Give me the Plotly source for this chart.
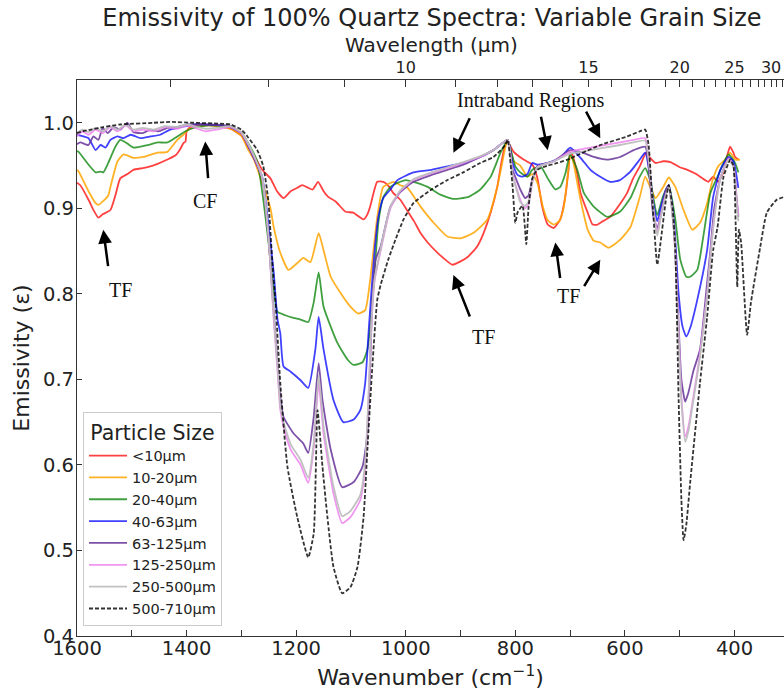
import plotly.graph_objects as go

# ---------------- data (wavenumber cm^-1, emissivity) ----------------
red_wn = [1600,1594,1579,1570,1561,1553,1539,1530,1521,1508,1497,1480,1466,1453,1435,1420,1411,1406,1402,1400,1393,1380,1350,1320,1300,1284,1271,1262,1247,1235,1223,1210,1198,1189,1178,1170,1160,1150,1141,1128,1110,1096,1085,1077,1070,1065,1058,1052,1041,1030,1023,1010,997,985,973,960,942,924,915,900,887,870,858,845,833,825,816,803,785,769,760,751,741,730,718,709,703,700,696,687,681,668,659,650,640,627,609,596,585,573,561,554,544,530,517,500,486,470,463,448,439,430,421,412,408,402,399,393]
red_em = [0.930,0.927,0.910,0.898,0.889,0.893,0.898,0.915,0.935,0.940,0.945,0.947,0.949,0.952,0.957,0.962,0.970,0.976,0.978,0.990,0.995,0.997,0.997,0.993,0.985,0.968,0.955,0.945,0.935,0.920,0.912,0.920,0.924,0.927,0.924,0.922,0.931,0.920,0.913,0.908,0.896,0.895,0.890,0.887,0.893,0.902,0.920,0.931,0.931,0.925,0.918,0.910,0.897,0.885,0.871,0.860,0.848,0.838,0.834,0.838,0.843,0.855,0.871,0.895,0.925,0.955,0.980,0.966,0.957,0.951,0.936,0.902,0.881,0.877,0.887,0.913,0.945,0.965,0.963,0.940,0.918,0.895,0.881,0.881,0.885,0.890,0.905,0.918,0.935,0.949,0.965,0.959,0.953,0.955,0.954,0.948,0.945,0.940,0.937,0.931,0.937,0.931,0.941,0.965,0.972,0.965,0.960,0.957]

orange_wn = [1600,1597,1579,1566,1561,1553,1543,1539,1526,1515,1497,1479,1453,1435,1417,1406,1397,1387,1360,1320,1300,1289,1278,1262,1247,1241,1229,1214,1198,1187,1174,1159,1150,1137,1119,1101,1087,1074,1065,1052,1041,1022,1010,997,973,949,924,900,877,851,833,818,814,803,791,778,769,760,749,741,730,720,712,705,700,696,687,681,668,657,645,630,609,590,573,563,554,544,530,520,508,493,477,463,450,440,430,417,408,399,390]
orange_em = [0.945,0.943,0.920,0.906,0.904,0.908,0.915,0.925,0.955,0.963,0.959,0.960,0.965,0.966,0.980,0.986,0.992,0.995,0.997,0.993,0.985,0.970,0.958,0.930,0.900,0.878,0.848,0.828,0.836,0.842,0.837,0.871,0.851,0.820,0.801,0.785,0.777,0.781,0.816,0.890,0.925,0.931,0.927,0.924,0.902,0.883,0.867,0.865,0.871,0.887,0.925,0.972,0.980,0.955,0.950,0.937,0.940,0.930,0.900,0.886,0.881,0.885,0.900,0.935,0.960,0.958,0.930,0.910,0.875,0.862,0.860,0.854,0.863,0.878,0.913,0.937,0.925,0.912,0.925,0.936,0.925,0.898,0.875,0.883,0.906,0.933,0.949,0.957,0.965,0.957,0.957]

green_wn = [1600,1597,1579,1566,1557,1552,1543,1530,1521,1511,1497,1471,1453,1435,1417,1402,1387,1360,1320,1300,1284,1271,1260,1251,1241,1234,1220,1205,1192,1178,1168,1159,1150,1125,1106,1095,1079,1070,1065,1061,1057,1050,1041,1028,1010,1000,986,960,937,913,887,864,845,827,814,805,800,791,778,769,754,741,727,718,709,700,687,675,657,632,609,590,573,563,554,544,541,530,520,508,499,488,481,468,457,444,431,420,411,399,393]
green_em = [0.967,0.966,0.951,0.942,0.943,0.942,0.953,0.972,0.980,0.977,0.971,0.974,0.977,0.977,0.984,0.990,0.994,0.997,0.995,0.988,0.972,0.955,0.910,0.863,0.805,0.779,0.775,0.772,0.770,0.767,0.790,0.825,0.785,0.743,0.723,0.717,0.720,0.735,0.761,0.793,0.825,0.883,0.913,0.925,0.931,0.933,0.931,0.925,0.916,0.911,0.913,0.922,0.937,0.965,0.980,0.960,0.949,0.942,0.937,0.945,0.949,0.935,0.922,0.925,0.940,0.963,0.945,0.918,0.902,0.890,0.896,0.912,0.937,0.947,0.933,0.898,0.892,0.915,0.927,0.887,0.840,0.820,0.820,0.828,0.867,0.918,0.937,0.953,0.963,0.953,0.942]

blue_wn = [1600,1594,1579,1566,1557,1548,1539,1526,1515,1502,1484,1466,1448,1430,1411,1380,1340,1320,1300,1278,1262,1251,1241,1234,1229,1223,1210,1192,1178,1165,1159,1150,1132,1114,1095,1083,1074,1068,1063,1057,1050,1041,1028,1015,986,953,924,895,864,840,814,805,796,787,778,769,760,741,718,700,681,663,645,627,609,590,573,563,554,548,541,535,526,520,510,502,495,488,481,468,450,439,426,411,402,393]
blue_em = [0.986,0.985,0.982,0.968,0.974,0.971,0.980,0.984,0.982,0.986,0.982,0.984,0.986,0.992,0.995,0.998,0.997,0.995,0.988,0.960,0.937,0.883,0.825,0.770,0.754,0.715,0.709,0.699,0.690,0.735,0.773,0.735,0.676,0.650,0.653,0.664,0.696,0.754,0.800,0.850,0.890,0.912,0.922,0.933,0.942,0.945,0.949,0.953,0.960,0.968,0.980,0.953,0.939,0.937,0.940,0.953,0.951,0.953,0.959,0.971,0.959,0.945,0.937,0.931,0.933,0.943,0.957,0.965,0.937,0.905,0.885,0.900,0.920,0.927,0.880,0.800,0.762,0.750,0.760,0.793,0.851,0.913,0.945,0.960,0.955,0.924]

purple_wn = [1600,1594,1579,1570,1561,1553,1544,1533,1521,1508,1497,1480,1466,1451,1435,1417,1398,1360,1320,1300,1278,1262,1251,1241,1234,1229,1223,1205,1187,1178,1168,1159,1152,1137,1116,1095,1079,1070,1065,1061,1055,1046,1028,1010,986,953,924,895,864,840,814,805,796,791,782,776,769,760,730,700,681,657,632,609,584,563,554,548,541,535,526,520,510,503,497,490,484,475,463,450,444,437,426,411,402,396,393]
purple_em = [0.975,0.977,0.974,0.984,0.980,0.994,0.988,0.995,0.992,1.000,0.989,0.988,0.992,0.990,0.994,0.995,0.998,0.998,0.996,0.988,0.960,0.935,0.870,0.780,0.720,0.680,0.656,0.637,0.625,0.614,0.656,0.719,0.676,0.618,0.574,0.580,0.598,0.637,0.715,0.793,0.840,0.855,0.902,0.919,0.931,0.939,0.945,0.951,0.960,0.968,0.980,0.945,0.930,0.922,0.912,0.915,0.933,0.949,0.955,0.968,0.966,0.960,0.957,0.960,0.968,0.972,0.930,0.890,0.877,0.890,0.920,0.927,0.870,0.780,0.700,0.674,0.685,0.710,0.735,0.813,0.851,0.900,0.935,0.958,0.950,0.910,0.890]

pink_wn = [1600,1590,1579,1566,1553,1539,1526,1511,1497,1480,1460,1440,1417,1398,1380,1365,1345,1320,1300,1278,1262,1251,1241,1234,1229,1223,1210,1192,1178,1168,1159,1150,1132,1116,1101,1083,1074,1068,1063,1057,1046,1028,1010,986,953,924,895,864,840,814,805,796,791,782,776,769,760,730,700,681,645,609,584,563,557,548,541,535,526,520,510,503,497,490,484,475,463,450,444,437,426,411,402,396,393]
pink_em = [0.984,0.990,0.986,0.992,0.988,0.995,0.990,0.997,0.990,0.992,0.990,0.995,0.993,0.997,0.993,0.990,0.992,0.995,0.988,0.962,0.935,0.870,0.770,0.710,0.665,0.645,0.618,0.600,0.579,0.620,0.696,0.637,0.567,0.532,0.539,0.559,0.598,0.676,0.760,0.815,0.850,0.900,0.920,0.933,0.941,0.947,0.953,0.960,0.968,0.980,0.940,0.920,0.910,0.900,0.905,0.930,0.948,0.955,0.966,0.969,0.973,0.977,0.980,0.982,0.960,0.900,0.872,0.890,0.915,0.926,0.870,0.770,0.680,0.633,0.645,0.680,0.730,0.800,0.845,0.890,0.935,0.958,0.950,0.910,0.892]

gray_wn = [1600,1590,1579,1566,1553,1539,1526,1511,1497,1480,1460,1440,1417,1398,1380,1365,1345,1320,1300,1278,1262,1251,1241,1234,1229,1223,1210,1192,1178,1168,1159,1150,1132,1116,1101,1083,1074,1068,1063,1057,1046,1028,1010,986,953,924,895,864,840,814,805,796,791,782,776,769,760,730,700,681,645,609,584,563,557,548,541,535,526,520,510,503,497,490,484,475,463,450,444,437,426,411,402,396,393]
gray_em = [0.988,0.992,0.989,0.994,0.990,0.996,0.992,0.998,0.992,0.994,0.992,0.996,0.995,0.998,0.995,0.993,0.994,0.996,0.989,0.963,0.936,0.872,0.775,0.715,0.670,0.650,0.624,0.606,0.585,0.626,0.705,0.645,0.575,0.540,0.546,0.565,0.604,0.680,0.762,0.817,0.852,0.902,0.921,0.934,0.942,0.948,0.954,0.961,0.968,0.980,0.938,0.918,0.907,0.903,0.908,0.931,0.948,0.955,0.964,0.966,0.970,0.974,0.977,0.979,0.958,0.898,0.868,0.888,0.914,0.926,0.868,0.765,0.675,0.627,0.640,0.676,0.726,0.798,0.843,0.888,0.934,0.957,0.948,0.905,0.885]

dashed_wn = [1600,1590,1575,1552,1521,1460,1430,1387,1340,1320,1300,1289,1271,1260,1251,1243,1238,1229,1216,1198,1178,1168,1161,1152,1143,1132,1116,1101,1088,1077,1070,1061,1052,1046,1032,1019,1004,986,953,924,895,864,840,818,814,805,800,796,787,780,776,769,760,741,723,700,694,645,596,573,563,557,550,541,535,526,520,513,508,502,497,493,488,481,463,450,439,431,420,411,408,402,398,395,392,388,377,370,353,341,323,311]
dashed_em = [0.988,0.990,0.992,0.995,0.998,1.000,1.001,1.000,0.999,0.998,0.992,0.984,0.968,0.949,0.910,0.832,0.793,0.696,0.598,0.539,0.492,0.520,0.664,0.598,0.539,0.481,0.450,0.457,0.481,0.539,0.618,0.715,0.793,0.810,0.840,0.863,0.887,0.906,0.922,0.933,0.942,0.953,0.960,0.974,0.980,0.925,0.883,0.895,0.903,0.858,0.900,0.935,0.945,0.950,0.953,0.958,0.960,0.974,0.984,0.990,0.992,0.975,0.910,0.834,0.860,0.906,0.927,0.900,0.850,0.676,0.560,0.512,0.530,0.579,0.696,0.773,0.851,0.878,0.937,0.953,0.957,0.950,0.883,0.808,0.875,0.860,0.752,0.790,0.855,0.895,0.910,0.913]

series_names = ["<10µm", "10-20µm", "20-40µm", "40-63µm", "63-125µm", "125-250µm", "250-500µm", "500-710µm"]

bottom_ticks = [1600, 1500, 1400, 1300, 1200, 1100, 1000, 900, 800, 700, 600, 500, 400]
bottom_labels = ["1600", "", "1400", "", "1200", "", "1000", "", "800", "", "600", "", "400"]
top_wavelengths_um = list(range(7, 34))
top_labeled = [10, 15, 20, 25, 30]
y_ticks = [0.4, 0.5, 0.6, 0.7, 0.8, 0.9, 1.0]

# ---------------- figure ----------------
FONT = "DejaVu Sans"
SERIF = "Liberation Serif"

series = [
    (red_wn, red_em, "rgba(255,0,0,0.75)", "solid"),
    (orange_wn, orange_em, "rgba(255,165,0,0.85)", "solid"),
    (green_wn, green_em, "rgba(0,128,0,0.75)", "solid"),
    (blue_wn, blue_em, "rgba(0,0,255,0.75)", "solid"),
    (purple_wn, purple_em, "rgba(102,51,153,0.85)", "solid"),
    (pink_wn, pink_em, "rgba(238,130,238,0.85)", "solid"),
    (gray_wn, gray_em, "rgba(190,190,190,0.95)", "solid"),
    (dashed_wn, dashed_em, "rgba(0,0,0,0.8)", "4px,2px"),
]

fig = go.Figure()
for i, ((wn, em, col, dash), name) in enumerate(zip(series, series_names)):
    fig.add_trace(go.Scatter(
        x=wn, y=em, mode="lines", name=name, legendgroup=f"g{i}",
        line=dict(color=col, width=1.8, dash=dash, shape="spline", smoothing=0.5),
    ))

# dummy trace to activate the top (wavelength) axis
fig.add_trace(go.Scatter(x=[1600], y=[None], xaxis="x2", yaxis="y",
                         showlegend=False, hoverinfo="skip", mode="lines"))

top_vals = [1e4 / w for w in top_wavelengths_um]
top_text = [str(w) if w in top_labeled else "" for w in top_wavelengths_um]

XR = [1600, 309.7]
axis_common = dict(showgrid=False, zeroline=False, showline=True, linecolor="#333",
                   linewidth=1.2, ticks="inside", tickcolor="#333")

fig.update_layout(
    width=784, height=690,
    margin=dict(l=77, r=0, t=80, b=54),
    plot_bgcolor="white", paper_bgcolor="white",
    font=dict(family=FONT, color="#222"),
    title=dict(text="Emissivity of 100% Quartz Spectra: Variable Grain Size",
               font=dict(size=24, family=FONT, color="#222"),
               x=0.502, xref="paper", xanchor="center", y=1 - 18 / 690, yref="container", yanchor="middle"),
    xaxis=dict(range=XR, tickvals=bottom_ticks, ticktext=bottom_labels, ticklen=6,
               ticklabelstandoff=-6,
               tickfont=dict(size=19.5), title=dict(text="Wavenumber (cm<sup>−1</sup>)", font=dict(size=22), standoff=13),
               **axis_common),
    xaxis2=dict(range=XR, overlaying="x", side="top", tickvals=top_vals, ticktext=top_text, ticklen=7,
                tickfont=dict(size=16), **axis_common),
    yaxis=dict(range=[0.4, 1.05], tickvals=y_ticks, ticktext=[f"{v:.1f}" for v in y_ticks], ticklen=5,
               ticklabelstandoff=-2,
               tickfont=dict(size=19.5), title=dict(text="Emissivity (ε)", font=dict(size=22), standoff=7),
               **axis_common),
    legend=dict(x=0.0085, y=0.018, xanchor="left", yanchor="bottom",
                bgcolor="rgba(255,255,255,0.85)", bordercolor="#cccccc", borderwidth=1,
                font=dict(size=14.5, family=FONT, color="#222"),
                title=dict(text="Particle Size", font=dict(size=20.5, family=FONT, color="#222"), side="top center"),
                tracegroupgap=0, itemwidth=38),
    showlegend=True,
)

# top axis title
fig.add_annotation(text="Wavelength (µm)", xref="paper", yref="paper", x=0.502, y=1 + (80 - 45) / 556,
                   xanchor="center", yanchor="middle", showarrow=False,
                   font=dict(family=FONT, size=20, color="#222"))

# ---------------- annotations ----------------
arrows = [  # (head wavenumber, head emissivity, tail dx px, tail dy px)
    (1552, 0.875, 5, 38),
    (1366, 0.978, 3, 38),
    (913, 0.965, 17, -36),
    (741, 0.968, -7, -35),
    (645, 0.982, -15, -28),
    (913, 0.822, 17, 43),
    (727, 0.860, 5, 37),
    (645, 0.840, -17, 28),
]
for hx, hy, dx, dy in arrows:
    fig.add_annotation(x=hx, y=hy, xref="x", yref="y", ax=dx, ay=dy, text="",
                       showarrow=True, arrowhead=2, arrowsize=1.1, arrowwidth=2.5, arrowcolor="black")

labels = [
    ("TF", 1521, 0.805),
    ("CF", 1366, 0.908),
    ("TF", 858, 0.750),
    ("TF", 703, 0.797),
    ("Intraband Regions", 772, 1.0257),
]
for txt, lx, ly in labels:
    fig.add_annotation(x=lx, y=ly, xref="x", yref="y", text=txt, showarrow=False,
                       font=dict(family=SERIF, size=20, color="#111"))

fig.write_html("out.html")
